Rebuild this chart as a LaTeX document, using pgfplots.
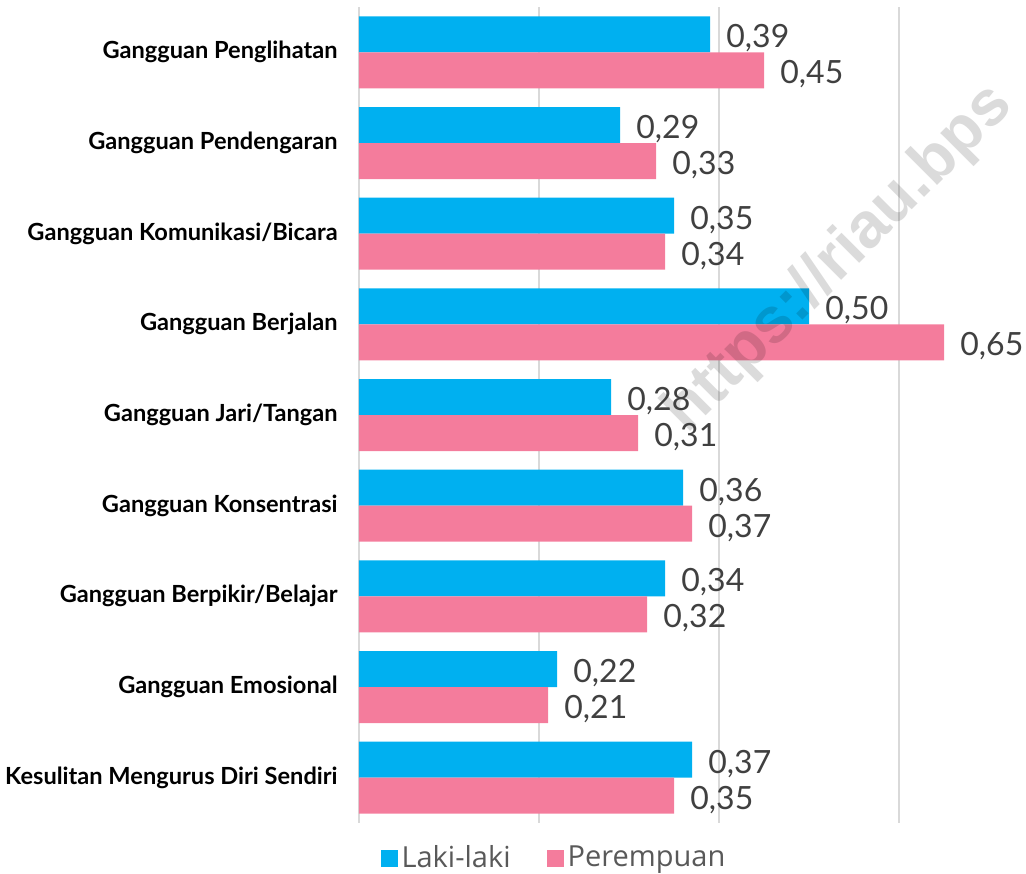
\documentclass[border=0pt]{standalone}
\usepackage{pgfplots}
\pgfplotsset{compat=1.18}
\usepackage{fontspec}
\setmainfont{Lato}
\newfontfamily\legfont{Open Sans}
\newfontfamily\wmfont{Liberation Sans}
\definecolor{cblue}{HTML}{00B0F0}
\definecolor{cpink}{HTML}{F47C9C}
\definecolor{cgrid}{HTML}{D9D9D9}
\definecolor{clab}{HTML}{404040}
\definecolor{cleg}{HTML}{595959}
\begin{document}
\begin{tikzpicture}
\useasboundingbox (-179.5pt,-25pt) rectangle (333.5pt,411.5pt);
\begin{axis}[
  at={(0,0)}, anchor=south west,
  scale only axis, width=315pt, height=408pt,
  xbar, bar width=18pt,
  xmin=0, xmax=0.7, ymin=-0.5, ymax=8.5, y dir=reverse,
  xtick={0,0.2,0.4,0.6}, xticklabels={},
  ytick={0,...,8},
  yticklabels={Gangguan Penglihatan,Gangguan Pendengaran,Gangguan Komunikasi/Bicara,Gangguan Berjalan,Gangguan Jari/Tangan,Gangguan Konsentrasi,Gangguan Berpikir/Belajar,Gangguan Emosional,Kesulitan Mengurus Diri Sendiri},
  yticklabel style={inner sep=0pt, xshift=-10.5pt, font=\bfseries\fontsize{11.8}{14}\selectfont, text=black},
  major tick length=0pt,
  axis line style={draw=none},
  xmajorgrids, grid style={cgrid, line width=1pt},
  clip=false,
  point meta=x,
  nodes near coords,
  nodes near coords style={anchor=west, xshift=8pt, yshift=-2pt, inner sep=0pt, font=\fontsize{16}{18}\selectfont, text=clab},
  /pgf/number format/.cd, fixed, zerofill, precision=2, use comma, assume math mode=true, /pgfplots/.cd,
  legend columns=2,
  legend style={at={(0.311,-0.043)}, anchor=center, draw=none, fill=none, font=\legfont\fontsize{14.5}{16}\selectfont, text=cleg,
    /tikz/every even column/.append style={column sep=16pt}},
  legend image code/.code={\fill[#1] (0pt,-4.25pt) rectangle (8.5pt,4.25pt);},
]
\addplot[fill=cblue, draw=none, bar shift=9pt] coordinates {(0.39,0) (0.29,1) (0.35,2) (0.50,3) (0.28,4) (0.36,5) (0.34,6) (0.22,7) (0.37,8)};
\addplot[fill=cpink, draw=none, bar shift=-9pt] coordinates {(0.45,0) (0.33,1) (0.34,2) (0.65,3) (0.31,4) (0.37,5) (0.32,6) (0.21,7) (0.35,8)};
\legend{Laki-laki,Perempuan}
\node[anchor=base west, rotate=45, text=black, opacity=0.14, font=\wmfont\bfseries\fontsize{32}{36}\selectfont, inner sep=0pt] at (axis cs:0.365,4.22) {https://riau.bps};
\end{axis}
\end{tikzpicture}
\end{document}
